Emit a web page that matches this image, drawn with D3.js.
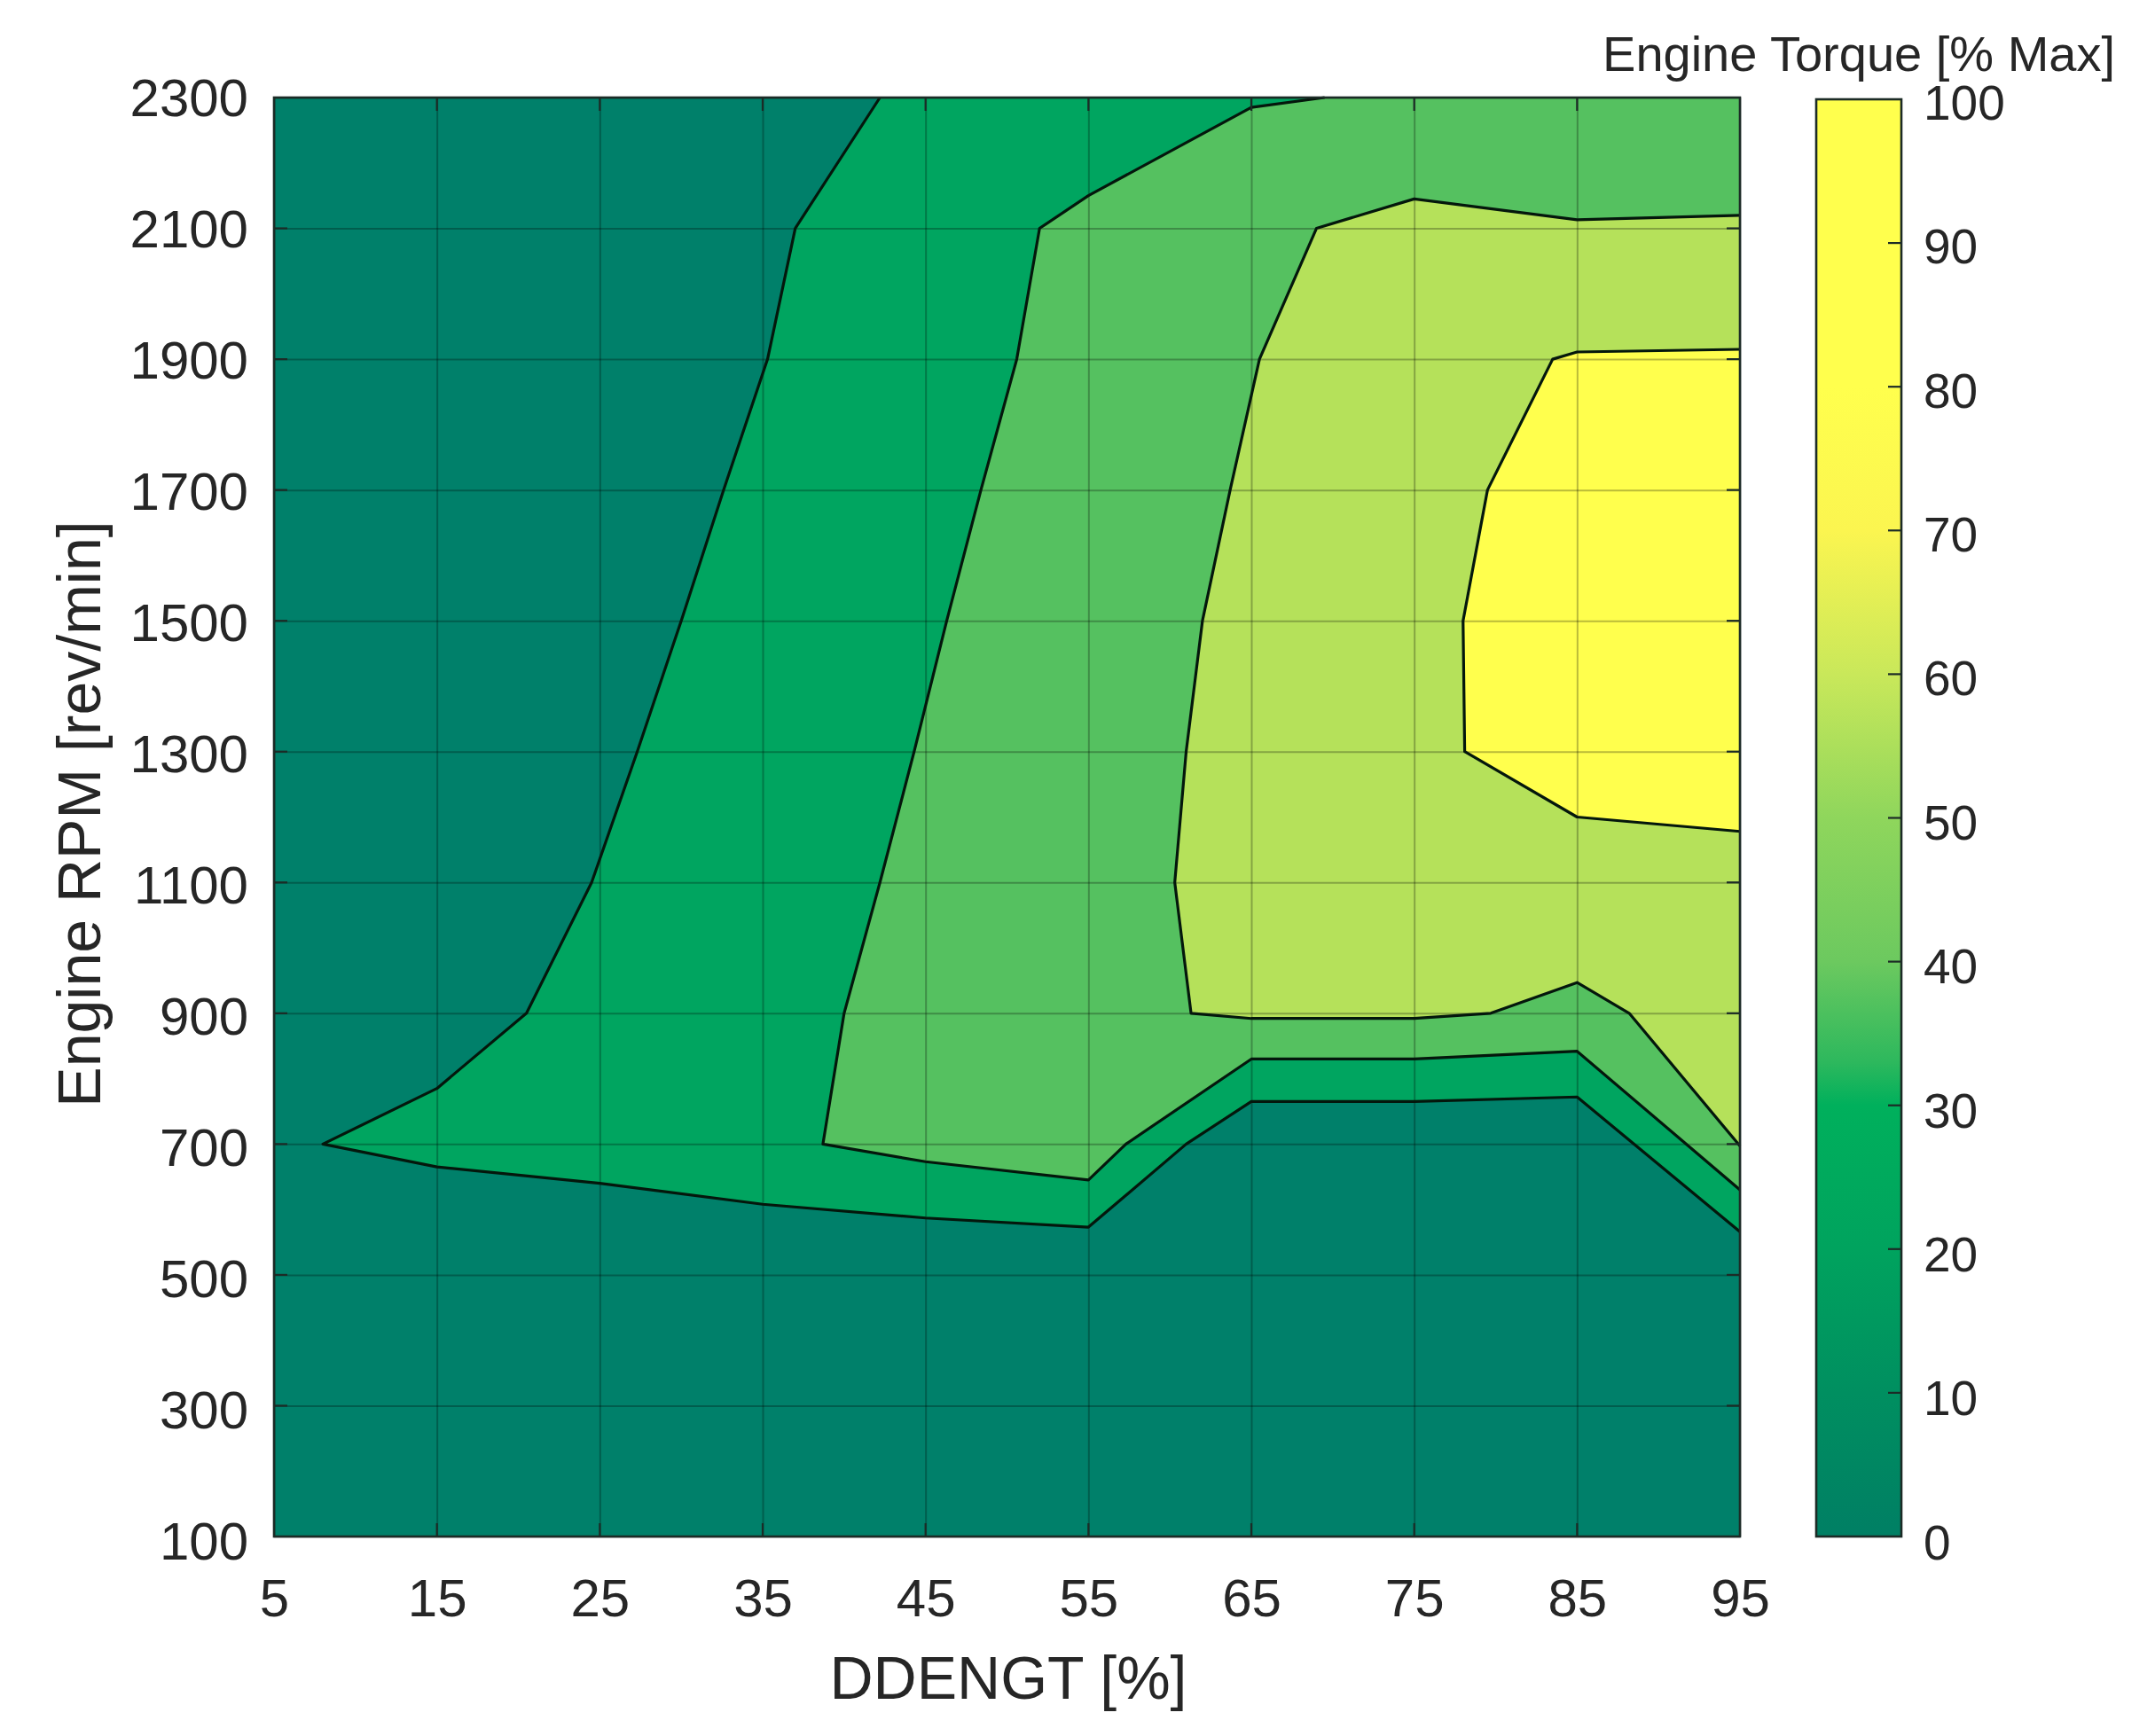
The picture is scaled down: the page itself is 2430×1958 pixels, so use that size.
<!DOCTYPE html>
<html>
<head>
<meta charset="utf-8">
<script src="https://cdn.jsdelivr.net/npm/d3@7"></script>
<style>
    html, body { margin: 0; padding: 0; background: #fff; }
    svg { display: block; }
    text { font-family: "Liberation Sans", Arial, sans-serif; fill: #262626; }
</style>
</head>
<body>
<svg id="chart" width="2430" height="1958"></svg>
<script>
// axis ticks
const xTicks = [5, 15, 25, 35, 45, 55, 65, 75, 85, 95];
const yTicks = [100, 300, 500, 700, 900, 1100, 1300, 1500, 1700, 1900, 2100, 2300];
const barTicks = [0, 10, 20, 30, 40, 50, 60, 70, 80, 90, 100];

// contour lines, [DDENGT %, RPM]
const contour1 = [[42.2, 2300], [37, 2100], [35.3, 1900], [32.6, 1700], [30, 1500], [27.3, 1300], [24.5, 1100], [20.5, 900], [15, 785], [8, 700], [15, 665], [25, 640], [35, 608], [45, 587], [55, 573], [61, 700], [65, 765], [75, 765], [85, 772], [95, 566]];
const contour2 = [[69.5, 2300], [65, 2285], [55, 2150], [52, 2100], [50.6, 1900], [48.4, 1700], [46.3, 1500], [44.3, 1300], [42.2, 1100], [40, 900], [38.7, 700], [45, 673], [55, 645], [57.3, 700], [65, 830], [75, 830], [85, 842], [95, 630]];
const contour3 = [[95, 2120], [85, 2113], [75, 2145], [69, 2100], [65.5, 1900], [63.7, 1700], [62, 1500], [61, 1300], [60.3, 1100], [61.3, 900], [65, 892], [75, 892], [79.7, 900], [85, 947], [88.2, 900], [95, 697]];
const contour4 = [[95, 1915], [85, 1911], [83.5, 1900], [79.5, 1700], [78, 1500], [78.1, 1300], [85, 1200], [95, 1178]];
const contourLines = [contour1, contour2, contour3, contour4];

// closing corners for each filled region
const regionCorners = [[[95, 2300]], [[95, 2300]], [], []];

const baseColor = "#00806a";
const fillColors = ["#00a560", "#55c160", "#b5e15a", "#ffff4d"];

// colorbar colours
const barStops = [0, 10, 20, 30, 33, 40, 50, 60, 70, 80, 100];
const barColors = ["#007f64", "#008f60", "#00a35e", "#00b05c", "#2db85d", "#6cc95f", "#8fd65c", "#c9e85a", "#fbf550", "#ffff4d", "#ffff4d"];

const plot = { left: 309, right: 1962, top: 110, bottom: 1733 };
const bar = { left: 2048, right: 2144, top: 112, bottom: 1733 };
const axisColor = "#1c2b26";

const svg = d3.select("#chart");

const x = d3.scaleLinear().domain([5, 95]).range([plot.left, plot.right]);
const y = d3.scaleLinear().domain([100, 2300]).range([plot.bottom, plot.top]);
const barY = d3.scaleLinear().domain([0, 100]).range([bar.bottom, bar.top]);
// tick labels sit a touch wider apart than the ticks in the original
const yLabels = d3.scaleLinear().domain([100, 2300]).range([plot.bottom, plot.top - 5]);
const barLabels = d3.scaleLinear().domain([0, 100]).range([bar.bottom, bar.top - 3]);

const line = d3.line().x(d => x(d[0])).y(d => y(d[1]));

// filled regions
svg.append("rect")
    .attr("x", plot.left).attr("y", plot.top)
    .attr("width", plot.right - plot.left).attr("height", plot.bottom - plot.top)
    .attr("fill", baseColor);

contourLines.forEach((c, i) => {
    svg.append("path")
        .attr("d", line(c.concat(regionCorners[i])) + "Z")
        .attr("fill", fillColors[i]);
});

// grid
const grid = svg.append("g").attr("class", "grid");
grid.append("g")
    .attr("transform", `translate(0,${plot.bottom})`)
    .call(d3.axisBottom(x).tickValues(xTicks).tickSize(-(plot.bottom - plot.top)).tickFormat(""));
grid.append("g")
    .attr("transform", `translate(${plot.left},0)`)
    .call(d3.axisLeft(y).tickValues(yTicks).tickSize(-(plot.right - plot.left)).tickFormat(""));
grid.selectAll(".domain").remove();
grid.selectAll("line")
    .attr("stroke", "#000")
    .attr("stroke-opacity", 0.27)
    .attr("stroke-width", 2);

// contour lines on top
svg.selectAll(".contour")
    .data(contourLines)
    .join("path")
    .attr("class", "contour")
    .attr("d", line)
    .attr("fill", "none")
    .attr("stroke", "#04170c")
    .attr("stroke-width", 3.2)
    .attr("stroke-linejoin", "round");

// axes and tick labels
const xAxis = svg.append("g")
    .attr("transform", `translate(0,${plot.bottom})`)
    .call(d3.axisBottom(x).tickValues(xTicks).tickSize(0).tickPadding(47));
const yAxis = svg.append("g")
    .attr("transform", `translate(${plot.left},0)`)
    .call(d3.axisLeft(yLabels).tickValues(yTicks).tickSize(0).tickPadding(29).tickFormat(d3.format("d")));
xAxis.select(".domain").remove();
yAxis.select(".domain").remove();
xAxis.selectAll("text").attr("dy", "0.71em").style("font-size", "60px").attr("fill", null);
yAxis.selectAll("text").attr("dy", "0.42em").style("font-size", "60px").attr("fill", null);

// inward ticks on all four sides
const tickLen = 15;
const tickGroup = svg.append("g").attr("stroke", axisColor).attr("stroke-width", 2.2);
tickGroup.selectAll(".tb")
    .data(xTicks.slice(1, -1))
    .join("line")
    .attr("x1", d => x(d)).attr("x2", d => x(d))
    .attr("y1", plot.bottom).attr("y2", plot.bottom - tickLen);
tickGroup.selectAll(".tt")
    .data(xTicks.slice(1, -1))
    .join("line")
    .attr("x1", d => x(d)).attr("x2", d => x(d))
    .attr("y1", plot.top).attr("y2", plot.top + tickLen);
tickGroup.selectAll(".tl")
    .data(yTicks.slice(1, -1))
    .join("line")
    .attr("x1", plot.left).attr("x2", plot.left + tickLen)
    .attr("y1", d => y(d)).attr("y2", d => y(d));
tickGroup.selectAll(".tr")
    .data(yTicks.slice(1, -1))
    .join("line")
    .attr("x1", plot.right - tickLen).attr("x2", plot.right)
    .attr("y1", d => y(d)).attr("y2", d => y(d));

svg.append("rect")
    .attr("x", plot.left).attr("y", plot.top)
    .attr("width", plot.right - plot.left).attr("height", plot.bottom - plot.top)
    .attr("fill", "none").attr("stroke", axisColor).attr("stroke-width", 2.6);

// axis titles
svg.append("text")
    .attr("x", 1137).attr("y", 1916)
    .attr("text-anchor", "middle")
    .style("font-size", "68px")
    .text("DDENGT [%]");
svg.append("text")
    .attr("transform", "translate(113,918) rotate(-90)")
    .attr("text-anchor", "middle")
    .style("font-size", "68px")
    .text("Engine RPM [rev/min]");

// colorbar
const gradient = svg.append("defs").append("linearGradient")
    .attr("id", "barGradient")
    .attr("x1", 0).attr("y1", 1).attr("x2", 0).attr("y2", 0);
gradient.selectAll("stop")
    .data(barStops)
    .join("stop")
    .attr("offset", d => d / 100)
    .attr("stop-color", (d, i) => barColors[i]);

svg.append("rect")
    .attr("x", bar.left).attr("y", bar.top)
    .attr("width", bar.right - bar.left).attr("height", bar.bottom - bar.top)
    .attr("fill", "url(#barGradient)")
    .attr("stroke", axisColor).attr("stroke-width", 2.6);

const barAxis = svg.append("g")
    .attr("transform", `translate(${bar.right},0)`)
    .call(d3.axisRight(barLabels).tickValues(barTicks).tickSize(0).tickPadding(25));
barAxis.select(".domain").remove();
barAxis.selectAll("text").attr("dy", "0.46em").style("font-size", "55px").attr("fill", null);

svg.append("g")
    .selectAll("line")
    .data(barTicks.slice(1, -1))
    .join("line")
    .attr("x1", bar.right - tickLen).attr("x2", bar.right)
    .attr("y1", d => barY(d)).attr("y2", d => barY(d))
    .attr("stroke", axisColor).attr("stroke-width", 2.2);

svg.append("text")
    .attr("x", 2385).attr("y", 80)
    .attr("text-anchor", "end")
    .style("font-size", "56px")
    .text("Engine Torque [% Max]");
</script>
</body>
</html>
